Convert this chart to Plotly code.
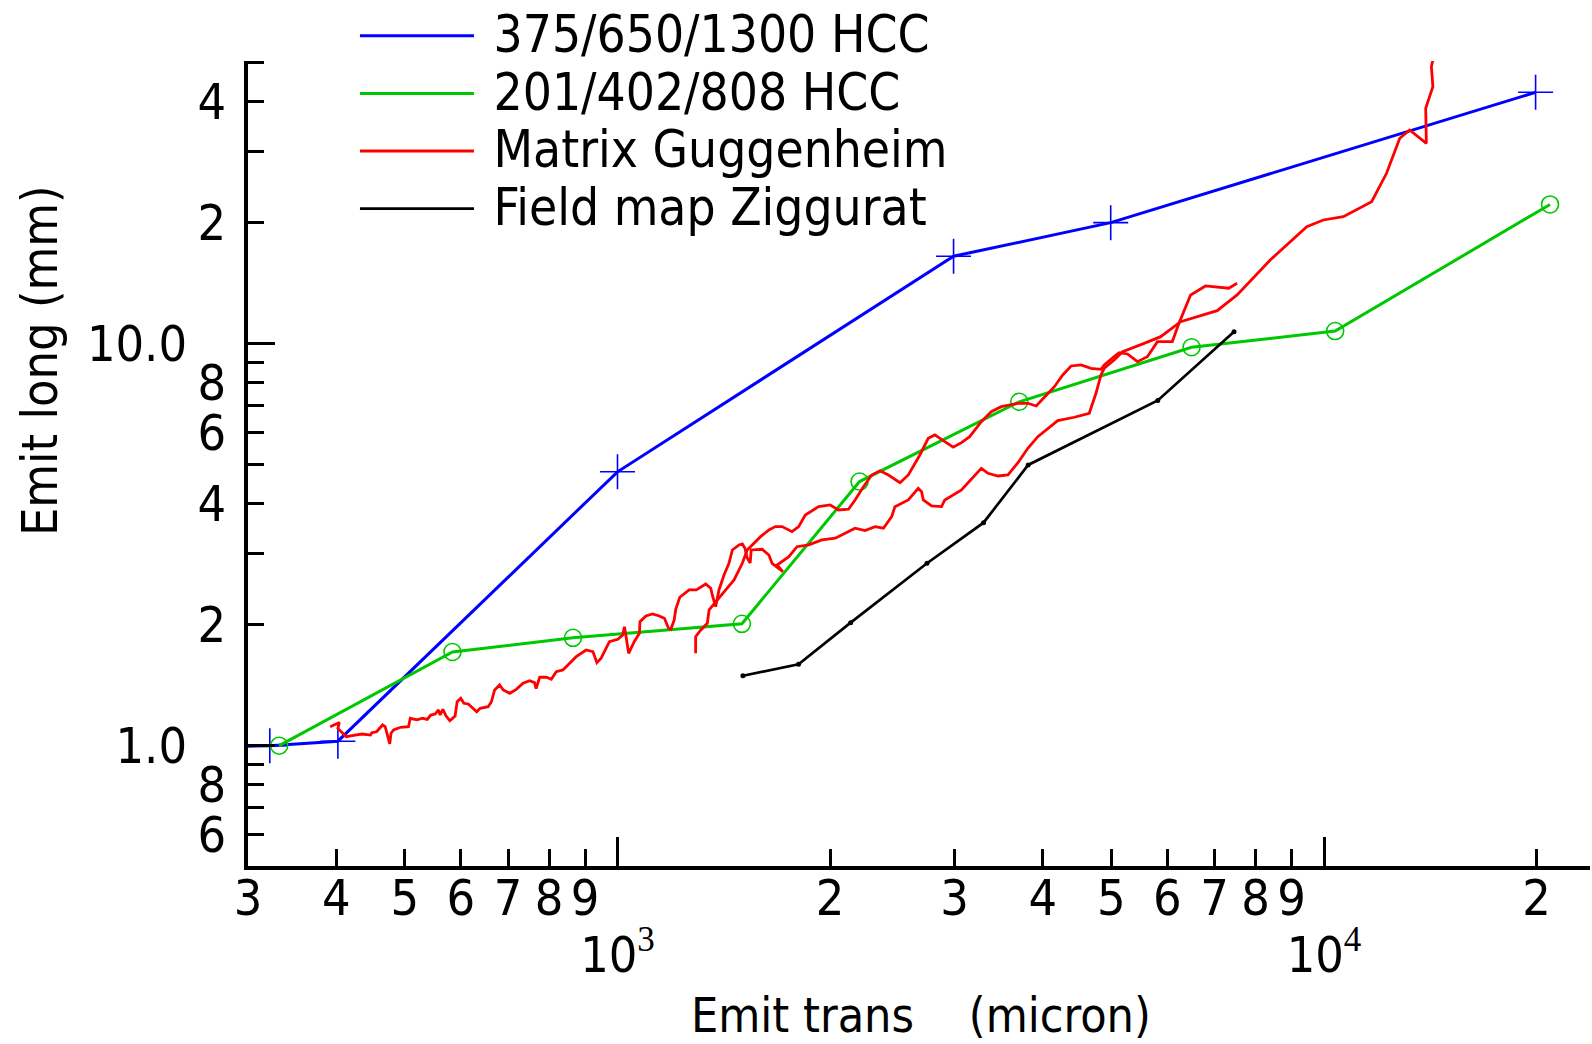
import plotly.graph_objects as go

# ---------------- data ----------------
hcc375_x = [280, 322, 402, 1000, 2990, 4990, 19930]
hcc375_y = [0.995, 1.0, 1.026, 4.8, 16.5, 20.0, 42.2]

hcc201_x = [332, 584, 865, 1500, 2201, 3704, 6495, 10370, 20890]
hcc201_y = [1.0, 1.71, 1.855, 2.01, 4.54, 7.17, 9.80, 10.75, 22.2]

guggA_x = [392, 404, 402, 413, 423, 435, 447, 449, 456, 465, 469, 476, 478, 482, 493, 506, 509, 520, 530, 538,
           544, 552, 558, 561, 566, 572, 579, 589, 593, 600, 606, 615, 632, 639, 656, 663, 670, 681, 689, 704,
           719, 735, 751, 763, 767, 776, 793, 806, 819, 837, 846, 874, 903, 923, 935, 948, 974, 1001, 1017, 1023,
           1028, 1037, 1056, 1074, 1076, 1097, 1121, 1146, 1165, 1181, 1190, 1203, 1209, 1225, 1263, 1293, 1333,
           1355, 1362, 1377, 1392, 1415, 1438, 1454, 1486, 1502, 1515, 1526, 1541, 1546, 1602, 1638, 1655, 1692,
           1714, 1682, 1748, 1795, 1865, 1947, 2033, 2100, 2169, 2241, 2315, 2379, 2444, 2470, 2580, 2665, 2694,
           2709, 2783, 2875, 2906, 3068, 3273, 3345, 3456, 3570, 3688, 3809, 3935, 4199, 4432, 4653, 4756, 4834,
           4886, 5047, 5187, 5564, 5874, 6267, 7060, 7534, 8392, 9454, 9977, 10650, 11680, 12260, 12800, 13220,
           13960, 13930, 14260, 14190, 14300]
guggA_y = [1.115, 1.142, 1.104, 1.053, 1.061, 1.069, 1.063, 1.077, 1.083, 1.126, 1.115, 1.010, 1.074, 1.094,
           1.111, 1.115, 1.170, 1.159, 1.170, 1.163, 1.192, 1.199, 1.227, 1.192, 1.232, 1.185, 1.154, 1.185,
           1.286, 1.312, 1.275, 1.270, 1.215, 1.239, 1.250, 1.286, 1.376, 1.416, 1.376, 1.350, 1.381, 1.430,
           1.451, 1.435, 1.386, 1.480, 1.480, 1.463, 1.528, 1.543, 1.572, 1.665, 1.730, 1.714, 1.609, 1.650,
           1.814, 1.839, 1.885, 1.977, 1.875, 1.697, 1.814, 1.904, 2.034, 2.102, 2.126, 2.102, 2.074, 1.959,
           1.948, 2.055, 2.185, 2.340, 2.440, 2.440, 2.525, 2.464, 2.371, 2.217, 2.440, 2.659, 2.843, 3.068,
           3.158, 3.176, 3.098, 2.930, 2.848, 3.068, 3.081, 2.981, 2.843, 2.763, 2.710, 2.815, 2.952, 3.126,
           3.158, 3.249, 3.281, 3.377, 3.475, 3.427, 3.507, 3.475, 3.713, 3.932, 4.085, 4.368, 4.284, 4.085,
           3.948, 3.932, 4.085, 4.326, 4.898, 4.760, 4.687, 4.714, 5.058, 5.494, 5.871, 6.434, 6.561, 6.713,
           7.526, 8.359, 8.686, 9.108, 9.552, 10.02, 10.41, 11.34, 12.08, 13.22, 16.15, 19.54, 20.31, 20.70,
           22.55, 26.54, 32.43, 34.01, 31.51, 38.51, 43.59, 48.88, 51.96]

guggB_x = [1290, 1290, 1312, 1340, 1348, 1377, 1423, 1462, 1502, 1526, 1551, 1594, 1638, 1673, 1710, 1766,
           1805, 1844, 1926, 2000, 2055, 2123, 2169, 2229, 2290, 2353, 2418, 2511, 2580, 2679, 2753, 2813,
           2906, 2986, 3068, 3151, 3273, 3381, 3493, 3588, 3688, 3809, 3914, 4020, 4153, 4268, 4385, 4530,
           4679, 4834, 4886, 5047, 5129, 5271, 5445, 5623, 5811, 6100, 6233, 6474, 6796, 7331, 7534]
guggB_y = [1.697, 1.867, 1.940, 2.016, 2.176, 2.282, 2.440, 2.584, 2.843, 3.068, 3.158, 3.311, 3.441, 3.507,
           3.507, 3.407, 3.507, 3.749, 3.932, 3.970, 3.858, 3.874, 4.085, 4.409, 4.714, 4.831, 4.714, 4.511,
           4.714, 5.286, 5.818, 5.929, 5.706, 5.526, 5.673, 5.871, 6.397, 6.775, 6.971, 7.039, 7.108, 7.108,
           6.999, 7.356, 7.816, 8.359, 8.801, 8.852, 8.686, 8.637, 8.852, 9.283, 9.498, 9.428, 9.020, 9.283,
           10.12, 10.12, 11.24, 13.22, 13.92, 13.74, 14.13]

zigg_x = [1505, 1804, 2138, 2742, 3297, 3813, 5817, 7458]
zigg_y = [1.493, 1.594, 2.023, 2.843, 3.587, 4.993, 7.224, 10.7]

series_names = ["375/650/1300 HCC", "201/402/808 HCC", "Matrix Guggenheim", "Field map Ziggurat"]

x_digit_vals = [300, 400, 500, 600, 700, 800, 900, 2000, 3000, 4000, 5000, 6000, 7000, 8000, 9000, 20000]
x_digit_text = ["3", "4", "5", "6", "7", "8", "9", "2", "3", "4", "5", "6", "7", "8", "9", "2"]
x_decade_vals = [1000, 10000]
x_decade_text = ["10<sup><span style='font-family:Liberation Serif'>3</span></sup>",
                 "10<sup><span style='font-family:Liberation Serif'>4</span></sup>"]

y_digit_vals = [0.6, 0.7, 0.8, 0.9, 2, 3, 4, 5, 6, 7, 8, 9, 20, 30, 40, 50]
y_digit_text = ["6", "", "8", "", "2", "", "4", "", "6", "", "8", "", "2", "", "4", ""]
y_decade_vals = [1, 10]
y_decade_text = ["1.0", "10.0"]

x_range_log = [2.4770, 4.3765]
y_range_log = [-0.2993, 1.7032]

# ---------------- style ----------------
BLUE = "#0000ff"
GREEN = "#00c800"
RED = "#ff0000"
BLACK = "#000000"
FONT = "DejaVu Sans Condensed, Liberation Sans Narrow, DejaVu Sans, sans-serif"

fig = go.Figure()

def legend_name(s):
    return "<span style='font-size:51px'>\u00a0" + s + "</span>"

fig.add_trace(go.Scatter(x=hcc375_x, y=hcc375_y, mode="lines", name=legend_name(series_names[0]),
                         line=dict(color=BLUE, width=3)))
fig.add_trace(go.Scatter(x=hcc375_x, y=hcc375_y, mode="markers", showlegend=False,
                         marker=dict(symbol="cross-thin", size=25, color=BLUE,
                                     line=dict(color=BLUE, width=1.6))))
fig.add_trace(go.Scatter(x=hcc201_x, y=hcc201_y, mode="lines", name=legend_name(series_names[1]),
                         line=dict(color=GREEN, width=3)))
fig.add_trace(go.Scatter(x=hcc201_x, y=hcc201_y, mode="markers", showlegend=False,
                         marker=dict(symbol="circle-open", size=17, color=GREEN,
                                     line=dict(color=GREEN, width=1.6))))
fig.add_trace(go.Scatter(x=guggA_x, y=guggA_y, mode="lines", name=legend_name(series_names[2]),
                         legendgroup="gugg", line=dict(color=RED, width=2.8)))
fig.add_trace(go.Scatter(x=guggB_x, y=guggB_y, mode="lines", showlegend=False,
                         legendgroup="gugg", line=dict(color=RED, width=2.8)))
fig.add_trace(go.Scatter(x=zigg_x, y=zigg_y, mode="lines", name=legend_name(series_names[3]),
                         line=dict(color=BLACK, width=2.7)))
fig.add_trace(go.Scatter(x=zigg_x, y=zigg_y, mode="markers", showlegend=False,
                         xaxis="x2", yaxis="y2",
                         marker=dict(symbol="circle", size=5, color=BLACK)))

common_axis = dict(type="log", showgrid=False, zeroline=False, fixedrange=True,
                   tickfont=dict(family=FONT, size=50, color="black"))

fig.update_layout(
    width=1592, height=1044,
    margin=dict(l=248, r=2, t=61, b=178, autoexpand=False),
    paper_bgcolor="white", plot_bgcolor="white",
    font=dict(family=FONT, size=48, color="black"),
    xaxis=dict(**common_axis, range=x_range_log, showline=True, linewidth=4, linecolor="black",
               tickmode="array", tickvals=x_digit_vals, ticktext=x_digit_text,
               ticks="inside", ticklen=17, tickwidth=3, tickcolor="black",
               minor=dict(tickmode="array", tickvals=x_decade_vals, ticks="inside",
                          ticklen=29, tickwidth=3, tickcolor="black"),
               anchor="y", automargin=False, ticklabelstandoff=-15),
    yaxis=dict(**common_axis, range=y_range_log, showline=True, linewidth=4, linecolor="black",
               tickmode="array", tickvals=y_digit_vals, ticktext=y_digit_text,
               ticks="inside", ticklen=16, tickwidth=3, tickcolor="black",
               minor=dict(tickmode="array", tickvals=y_decade_vals, ticks="inside",
                          ticklen=27, tickwidth=3, tickcolor="black"),
               anchor="x", automargin=False, ticklabelstandoff=8),
    xaxis2=dict(**common_axis, range=x_range_log, overlaying="x", side="bottom", anchor="y2",
                showline=False, ticks="", tickmode="array", tickvals=x_decade_vals,
                ticktext=x_decade_text, ticklabelstandoff=55, automargin=False),
    yaxis2=dict(**common_axis, range=y_range_log, overlaying="y", side="left", anchor="x2",
                showline=False, ticks="", tickmode="array", tickvals=y_decade_vals,
                ticktext=y_decade_text, ticklabelstandoff=60, automargin=False),
    legend=dict(x=0.0797, xanchor="left", y=1.0733, yanchor="top",
                bgcolor="rgba(0,0,0,0)", borderwidth=0, itemwidth=114,
                font=dict(family=FONT, size=42, color="black"), tracegroupgap=0),
    annotations=[
        dict(text="Emit trans\u00a0\u00a0\u00a0\u00a0(micron)", xref="paper", yref="paper",
             x=0.5018, y=-0.1851, xanchor="center", yanchor="middle", showarrow=False,
             font=dict(family=FONT, size=48, color="black")),
        dict(text="Emit long (mm)", xref="paper", yref="paper", textangle=-90,
             x=-0.1545, y=0.628, xanchor="center", yanchor="middle", showarrow=False,
             font=dict(family=FONT, size=50, color="black")),
    ],
)

fig.write_html("out.html", include_plotlyjs=True, full_html=True, config={"displayModeBar": False})
